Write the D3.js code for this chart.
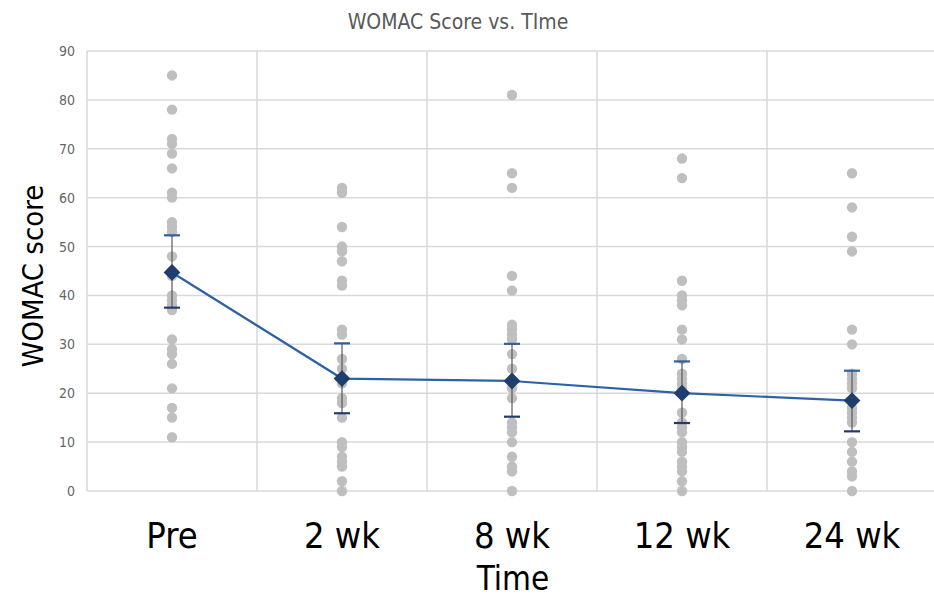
<!DOCTYPE html>
<html>
<head>
<meta charset="utf-8">
<script src="https://cdn.jsdelivr.net/npm/d3@7"></script>
<style>
  body { margin: 0; background: #fff; }
  svg { display: block; }
</style>
</head>
<body>
<div id="chart"></div>
<script>
// chart values
const timepoints = ['Pre', '2 wk', '8 wk', '12 wk', '24 wk'];
const scores = [
  [85, 78, 72, 71, 69, 66, 61, 60, 55, 54, 53, 48, 45, 44, 40, 39, 38, 37, 31, 29, 28, 26, 21, 17, 15, 11],
  [62, 61, 54, 50, 49, 47, 43, 42, 33, 32, 27, 25, 23, 22, 19, 18, 15, 10, 9, 7, 6, 5, 2, 0],
  [81, 65, 62, 44, 41, 34, 33, 32, 31, 28, 25, 21, 19, 14, 13, 12, 10, 7, 5, 4, 0],
  [68, 64, 43, 40, 39, 38, 33, 31, 27, 24, 23, 22, 21, 20, 16, 14, 13, 12, 10, 9, 8, 6, 5, 4, 2, 0],
  [65, 58, 52, 49, 33, 30, 24, 23, 22, 21, 17, 16, 15, 14, 10, 8, 6, 4, 3, 0]
];
const means = [44.7, 23, 22.5, 20, 18.5];
const ciLow = [37.5, 15.9, 15.2, 13.9, 12.2];
const ciHigh = [52.3, 30.2, 30.1, 26.5, 24.6];
const yTicks = [0, 10, 20, 30, 40, 50, 60, 70, 80, 90];

const W = 934, H = 597;
const m = { left: 87, right: 934 - 937, top: 51, bottom: 597 - 491 };
const font = '"Liberation Sans Narrow", "DejaVu Sans Condensed", "Open Sans", sans-serif';

const svg = d3.select('#chart').append('svg')
  .attr('width', W)
  .attr('height', H);

const x = d3.scaleBand().domain(timepoints).range([m.left, W - m.right]).padding(0);
const y = d3.scaleLinear().domain([0, 90]).range([H - m.bottom, m.top]);
const cx = d => x(d) + x.bandwidth() / 2;

// gridlines
svg.append('g')
  .selectAll('line')
  .data(yTicks)
  .join('line')
    .attr('x1', m.left)
    .attr('x2', W - m.right)
    .attr('y1', d => y(d))
    .attr('y2', d => y(d))
    .attr('stroke', '#d9d9d9')
    .attr('stroke-width', 1.5);

const edges = timepoints.map(d => x(d)).concat([x(timepoints[timepoints.length - 1]) + x.bandwidth()]);
svg.append('g')
  .selectAll('line')
  .data(edges)
  .join('line')
    .attr('x1', d => d)
    .attr('x2', d => d)
    .attr('y1', y(90))
    .attr('y2', y(0))
    .attr('stroke', '#d9d9d9')
    .attr('stroke-width', 1.5);

// y tick labels
const yAxis = svg.append('g')
  .attr('transform', `translate(${m.left - 12},0)`)
  .call(d3.axisLeft(y).tickValues(yTicks).tickSize(0).tickPadding(0));
yAxis.select('.domain').remove();
yAxis.selectAll('text')
  .attr('fill', '#666')
  .style('font-family', font)
  .style('font-size', '14px');

// x labels
const xAxis = svg.append('g')
  .attr('transform', `translate(0,${y(0) + 57})`)
  .call(d3.axisBottom(x).tickSize(0).tickPadding(0));
xAxis.select('.domain').remove();
xAxis.selectAll('text')
  .attr('fill', '#000')
  .attr('dy', '0')
  .style('font-family', font)
  .style('font-size', '36px');

// individual scores
timepoints.forEach((t, i) => {
  svg.append('g')
    .selectAll('circle')
    .data(scores[i])
    .join('circle')
      .attr('cx', cx(t))
      .attr('cy', d => y(d))
      .attr('r', 5.2)
      .attr('fill', '#bfbfbf');
});

// error bars
const eb = svg.append('g');
timepoints.forEach((t, i) => {
  eb.append('line')
    .attr('x1', cx(t)).attr('x2', cx(t))
    .attr('y1', y(ciHigh[i])).attr('y2', y(ciLow[i]))
    .attr('stroke', '#595959')
    .attr('stroke-width', 1.2);
  eb.append('line')
    .attr('x1', cx(t) - 8).attr('x2', cx(t) + 8)
    .attr('y1', y(ciHigh[i])).attr('y2', y(ciHigh[i]))
    .attr('stroke', '#2f5fa0')
    .attr('stroke-width', 2.2);
  eb.append('line')
    .attr('x1', cx(t) - 8).attr('x2', cx(t) + 8)
    .attr('y1', y(ciLow[i])).attr('y2', y(ciLow[i]))
    .attr('stroke', '#1f3c6e')
    .attr('stroke-width', 2.2);
});

// mean line
const line = d3.line()
  .x((d, i) => cx(timepoints[i]))
  .y(d => y(d));
svg.append('path')
  .datum(means)
  .attr('d', line)
  .attr('fill', 'none')
  .attr('stroke', '#2e62a6')
  .attr('stroke-width', 2.2);

svg.append('g')
  .selectAll('path')
  .data(means)
  .join('path')
    .attr('d', d3.symbol(d3.symbolDiamond2, 180))
    .attr('transform', (d, i) => `translate(${cx(timepoints[i])},${y(d)})`)
    .attr('fill', '#1f3d6d');

// titles
svg.append('text')
  .attr('x', 458)
  .attr('y', 29)
  .attr('text-anchor', 'middle')
  .attr('fill', '#595959')
  .style('font-family', font)
  .style('font-size', '21px')
  .text('WOMAC Score vs. TIme');

svg.append('text')
  .attr('x', 513)
  .attr('y', 590)
  .attr('text-anchor', 'middle')
  .attr('fill', '#000')
  .style('font-family', font)
  .style('font-size', '33px')
  .text('Time');

svg.append('text')
  .attr('transform', 'translate(43,276) rotate(-90)')
  .attr('text-anchor', 'middle')
  .attr('fill', '#000')
  .style('font-family', font)
  .style('font-size', '29px')
  .text('WOMAC score');
</script>
</body>
</html>
